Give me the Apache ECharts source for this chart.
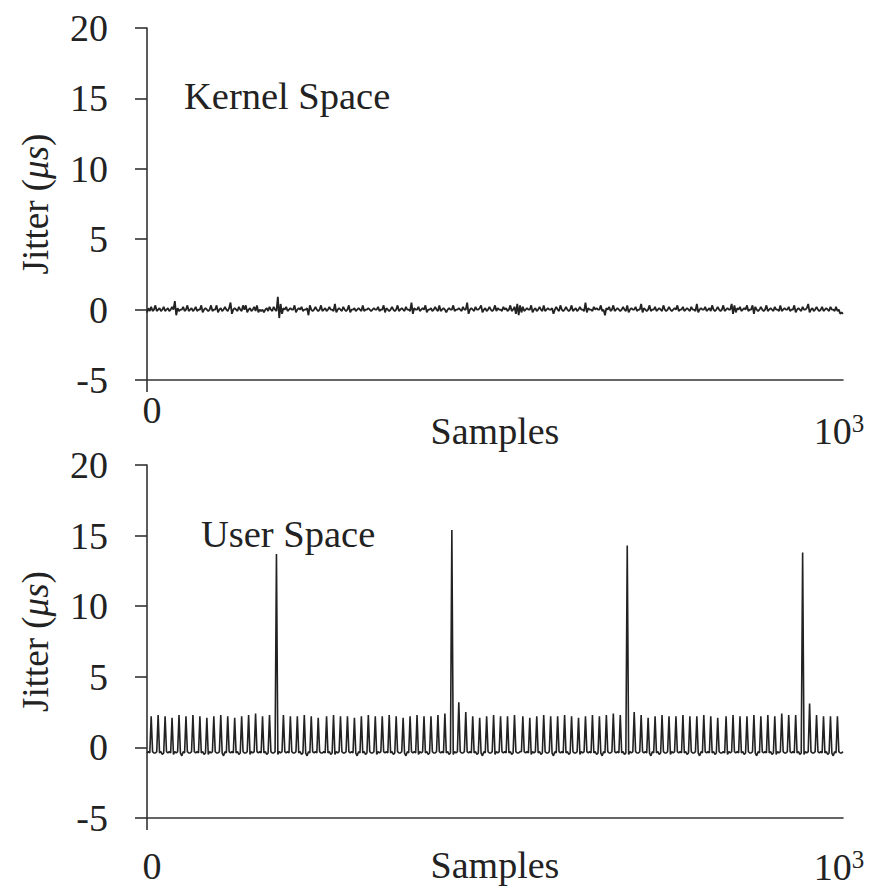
<!DOCTYPE html>
<html><head><meta charset="utf-8">
<script src="https://cdn.jsdelivr.net/npm/echarts@6/dist/echarts.min.js"></script>
<style>html,body{margin:0;padding:0;background:#fff}#c{width:875px;height:892px}</style>
</head><body><div id="c"></div>
<script>
// samples are recorded every 2 sample indices (0..1000)
const sampleStep = 2;
const xLabelValues = [0, 1000];
const xTickValues = [0];
const yMin = -5, yMax = 20, yStep = 5;
const panelTitles = ['Kernel Space', 'User Space'];
const axisNameX = 'Samples';

const kernelJitter = [
-0.2,0.1,-0.1,0.2,-0.1, 0.0,0.3,-0.1,0.0,0.1, -0.1,0.0,0.2,-0.1,0.0, 0.1,-0.1,0.0,0.2,0.0,
0.6,-0.4,0.1,-0.1,0.0, 0.0,0.2,-0.1,0.0,0.3, -0.1,0.0,0.1,-0.1,0.0, 0.2,-0.1,0.0,0.0,0.3,
-0.2,0.0,0.1,0.0,-0.1, 0.0,0.3,-0.1,0.0,0.0, 0.3,-0.2,0.0,0.1,-0.1, 0.0,0.2,0.0,-0.1,0.1,
0.5,-0.3,0.0,0.1,0.0, -0.1,0.2,0.0,-0.1,0.3, 0.0,0.3,-0.2,0.0,0.1, -0.1,0.0,0.2,-0.1,0.3,
-0.2,0.0,-0.1,0.0,-0.2, 0.0,0.1,-0.1,0.2,0.0, -0.1,0.2,0.0,-0.1,0.9, -0.6,0.4,-0.3,0.1,0.0,
0.2,-0.1,0.0,0.1,0.0, 0.0,0.3,-0.2,0.0,0.1, 0.0,0.2,-0.1,0.0,0.0, 0.1,-0.4,0.3,0.0,-0.1,
0.0,0.2,0.0,-0.1,0.0, 0.3,-0.1,0.0,0.1,-0.1, 0.0,0.2,0.0,0.0,-0.1, 0.4,-0.2,0.0,0.1,0.0,
-0.1,0.2,0.0,-0.1,0.0, 0.3,-0.2,0.0,0.0,0.1, -0.1,0.0,0.1,0.0,-0.1, 0.3,-0.1,0.0,0.0,0.1,
0.0,-0.1,0.0,0.1,0.0, 0.0,0.2,-0.1,0.0,0.0, 0.3,-0.2,0.1,0.0,-0.1, 0.0,0.2,0.0,-0.1,0.0,
0.3,-0.1,0.0,0.1,0.0, -0.1,0.2,0.0,0.0,-0.1, 0.5,-0.3,0.1,0.0,0.0, 0.2,-0.1,0.0,0.1,0.0,
0.3,-0.2,0.0,0.0,0.1, -0.1,0.0,0.2,0.0,-0.1, 0.3,-0.1,0.0,0.1,0.0, -0.2,0.0,0.1,0.0,0.0,
0.3,-0.1,0.0,0.0,0.1, 0.0,-0.1,0.2,0.0,0.0, 0.5,-0.3,0.0,0.1,0.0, -0.1,0.2,0.0,0.0,0.1,
0.3,-0.2,0.0,0.1,-0.1, 0.0,0.2,0.0,-0.1,0.0, 0.3,-0.1,0.1,0.0,0.0, -0.1,0.2,0.0,0.1,-0.1,
0.0,0.3,-0.1,0.0,0.2, -0.3,0.4,-0.4,0.3,-0.2, 0.2,-0.1,0.0,0.1,0.0, 0.0,0.3,-0.2,0.0,0.1,
-0.1,0.0,0.2,0.0,-0.1, 0.3,-0.1,0.0,0.1,0.0, 0.0,0.1,-0.3,0.0,0.2, 0.0,-0.1,0.3,0.0,-0.1,
0.0,0.2,0.0,-0.1,0.0, 0.3,-0.1,0.0,0.1,-0.1, 0.0,0.2,0.0,0.0,-0.1, 0.5,-0.2,0.1,0.0,0.0,
-0.1,0.2,0.0,0.1,0.0, 0.0,0.3,-0.1,0.0,-0.4, 0.1,0.0,0.2,-0.1,0.0, 0.3,-0.1,0.0,0.1,0.0,
-0.1,0.0,0.2,0.0,-0.1, 0.3,-0.2,0.0,0.1,0.0, 0.0,0.2,-0.1,0.0,0.0, 0.4,-0.2,0.1,0.0,-0.1,
0.0,0.3,-0.1,0.0,0.0, 0.2,-0.1,0.0,0.1,0.0, -0.1,0.3,0.0,-0.1,0.0, 0.2,0.0,-0.1,0.0,0.1,
0.0,0.3,-0.1,0.0,0.0, 0.2,-0.1,0.0,0.1,0.0, -0.1,0.2,0.0,0.0,-0.1, 0.4,-0.2,0.0,0.1,0.0,
0.0,0.2,-0.1,0.0,0.1, -0.1,0.3,0.0,-0.1,0.0, 0.2,0.0,-0.1,0.0,0.3, -0.1,0.0,0.1,0.0,0.0,
0.4,-0.3,0.3,-0.2,0.1, 0.0,0.2,-0.1,0.0,0.1, 0.0,0.3,-0.1,0.0,0.0, 0.3,-0.3,0.2,0.0,-0.1,
0.0,0.2,0.0,-0.1,0.0, 0.3,-0.1,0.0,0.1,0.0, -0.1,0.2,0.0,0.0,-0.1, 0.3,-0.1,0.0,0.1,0.0,
0.0,0.2,-0.1,0.0,0.0, 0.3,-0.2,0.0,0.1,0.0, -0.1,0.2,0.0,0.0,0.1, 0.4,-0.2,0.0,0.1,-0.1,
0.0,0.2,0.0,-0.1,0.0, 0.2,-0.1,0.0,0.1,0.0, -0.1,0.2,0.0,0.0,-0.1, 0.2,-0.1,0.0,-0.3,-0.2,
-0.3
];

const userJitter = [
-0.4,-0.3,-0.4,
2.2,-0.3,-0.4,-0.4,-0.3,
2.3,-0.4,-0.3,-0.5,-0.4,
2.2,-0.3,-0.4,-0.3,-0.4,
2.1,-0.5,-0.3,-0.4,-0.3,
2.3,-0.4,-0.6,-0.3,-0.4,
2.2,-0.3,-0.4,-0.4,-0.3,
2.3,-0.3,-0.4,-0.3,-0.4,
2.2,-0.4,-0.3,-0.5,-0.4,
2.1,-0.5,-0.3,-0.4,-0.3,
2.2,-0.3,-0.4,-0.4,-0.3,
2.3,-0.4,-0.6,-0.3,-0.4,
2.2,-0.3,-0.4,-0.3,-0.4,
2.1,-0.4,-0.3,-0.5,-0.4,
2.2,-0.3,-0.4,-0.4,-0.3,
2.3,-0.5,-0.3,-0.4,-0.3,
2.4,-0.3,-0.4,-0.3,-0.4,
2.2,-0.4,-0.3,-0.5,-0.4,
2.3,-0.3,-0.4,-0.4,-0.3,
13.7,-0.5,-0.3,-0.4,-0.3,
2.3,-0.3,-0.4,-0.3,-0.4,
2.2,-0.3,-0.4,-0.4,-0.3,
2.2,-0.4,-0.3,-0.5,-0.4,
2.3,-0.4,-0.6,-0.3,-0.4,
2.2,-0.3,-0.4,-0.3,-0.4,
2.1,-0.3,-0.4,-0.4,-0.3,-0.4,
2.2,-0.4,-0.3,-0.5,-0.4,
2.3,-0.5,-0.3,-0.4,-0.3,
2.2,-0.3,-0.4,-0.4,-0.3,
2.2,-0.3,-0.4,-0.3,-0.4,
2.1,-0.4,-0.6,-0.3,-0.4,
2.2,-0.4,-0.3,-0.5,-0.4,
2.3,-0.3,-0.4,-0.4,-0.3,
2.2,-0.5,-0.3,-0.4,-0.3,
2.2,-0.3,-0.4,-0.3,-0.4,
2.3,-0.4,-0.3,-0.5,-0.4,
2.2,-0.3,-0.4,-0.4,-0.3,
2.1,-0.4,-0.6,-0.3,-0.4,
2.2,-0.3,-0.4,-0.3,-0.4,
2.3,-0.5,-0.3,-0.4,-0.3,
2.2,-0.4,-0.3,-0.5,-0.4,
2.2,-0.3,-0.4,-0.4,-0.3,
2.3,-0.3,-0.4,-0.3,-0.4,
2.4,-0.4,-0.3,-0.5,-0.4,
15.4,-0.5,-0.3,-0.4,-0.3,
3.2,-0.3,-0.4,-0.4,-0.3,
2.5,-0.3,-0.4,-0.3,-0.4,
2.2,-0.4,-0.3,-0.5,-0.4,
2.1,-0.4,-0.6,-0.3,-0.4,
2.2,-0.3,-0.4,-0.4,-0.3,
2.3,-0.5,-0.3,-0.4,-0.3,
2.2,-0.3,-0.4,-0.3,-0.4,
2.2,-0.4,-0.3,-0.5,-0.4,
2.3,-0.3,-0.4,-0.4,-0.3,-0.3,
2.2,-0.3,-0.4,-0.3,-0.4,
2.1,-0.5,-0.3,-0.4,-0.3,
2.2,-0.4,-0.3,-0.5,-0.4,
2.3,-0.3,-0.4,-0.4,-0.3,
2.2,-0.4,-0.6,-0.3,-0.4,
2.2,-0.3,-0.4,-0.3,-0.4,
2.3,-0.4,-0.3,-0.5,-0.4,
2.2,-0.3,-0.4,-0.4,-0.3,
2.1,-0.5,-0.3,-0.4,-0.3,
2.2,-0.3,-0.4,-0.3,-0.4,
2.3,-0.4,-0.3,-0.5,-0.4,
2.2,-0.4,-0.6,-0.3,-0.4,
2.3,-0.3,-0.4,-0.4,-0.3,
2.4,-0.3,-0.4,-0.3,-0.4,
2.3,-0.4,-0.3,-0.5,-0.4,
14.3,-0.5,-0.3,-0.4,-0.3,
2.5,-0.3,-0.4,-0.4,-0.3,
2.3,-0.3,-0.4,-0.3,-0.4,
2.1,-0.4,-0.6,-0.3,-0.4,
2.2,-0.4,-0.3,-0.5,-0.4,
2.3,-0.3,-0.4,-0.4,-0.3,
2.2,-0.5,-0.3,-0.4,-0.3,
2.2,-0.3,-0.4,-0.3,-0.4,
2.3,-0.4,-0.3,-0.5,-0.4,
2.2,-0.3,-0.4,-0.4,-0.3,
2.2,-0.4,-0.6,-0.3,-0.4,
2.3,-0.3,-0.4,-0.3,-0.4,
2.2,-0.4,-0.3,-0.5,-0.4,
2.1,-0.3,-0.4,-0.4,-0.3,-0.4,
2.2,-0.5,-0.3,-0.4,-0.3,
2.3,-0.3,-0.4,-0.3,-0.4,
2.2,-0.4,-0.3,-0.5,-0.4,
2.2,-0.3,-0.4,-0.4,-0.3,
2.3,-0.4,-0.6,-0.3,-0.4,
2.2,-0.3,-0.4,-0.3,-0.4,
2.3,-0.4,-0.3,-0.5,-0.4,
2.2,-0.5,-0.3,-0.4,-0.3,
2.4,-0.3,-0.4,-0.4,-0.3,
2.3,-0.3,-0.4,-0.3,-0.4,
2.3,-0.4,-0.3,-0.5,-0.4,
13.8,-0.5,-0.3,-0.4,-0.3,
3.1,-0.3,-0.4,-0.4,-0.3,
2.3,-0.3,-0.4,-0.3,-0.4,
2.2,-0.4,-0.3,-0.5,-0.4,
2.2,-0.4,-0.6,-0.3,-0.4,
2.2,-0.3,-0.4,-0.4,-0.3
];

const FONT = "'Liberation Serif','Times New Roman',serif";
const INK = '#222';
const AXIS = '#333';

function toPairs(arr){ return arr.map((v,i)=>[i*sampleStep, v]); }

const chart = echarts.init(document.getElementById('c'), null, {renderer:'svg'});

function xAxisCfg(gi, nameGap, labelMargin, maxLabelDrop){
  return {
    type:'value', gridIndex:gi, min:0, max:1000, interval:1000,
    axisLine:{show:true,onZero:false,lineStyle:{color:AXIS,width:1.6}},
    axisTick:{show:true,customValues:xTickValues,length:12,lineStyle:{color:AXIS,width:1.6}},
    axisLabel:{
      customValues:xLabelValues, margin:labelMargin, color:INK, fontFamily:FONT, fontSize:38,
      formatter:function(v){ return v===0 ? '{z|0}' : (maxLabelDrop ? '{e|}\n' : '') + '{b|10}{s|3}{p|}'; },
      rich:{
        z:{fontFamily:FONT,fontSize:38,color:INK,padding:[0,0,0,10]},
        b:{fontFamily:FONT,fontSize:38,color:INK},
        s:{fontFamily:FONT,fontSize:25,color:INK,verticalAlign:'top',padding:[0,0,14,0]},
        p:{width:8},
        e:{fontSize:10,lineHeight:maxLabelDrop||1}
      }
    },
    splitLine:{show:false},
    name:axisNameX, nameLocation:'middle', nameGap:nameGap, nameMoveOverlap:false,
    nameTextStyle:{fontFamily:FONT,fontSize:38,color:INK}
  };
}
function yAxisCfg(gi){
  return {
    type:'value', gridIndex:gi, min:yMin, max:yMax, interval:yStep,
    axisLine:{show:true,onZero:false,lineStyle:{color:AXIS,width:1.6}},
    axisTick:{show:true,length:12,lineStyle:{color:AXIS,width:1.6}},
    axisLabel:{margin:39,color:INK,fontFamily:FONT,fontSize:38},
    splitLine:{show:false},
    name:'Jitter ({i|μs})', nameLocation:'middle', nameGap:93, nameMoveOverlap:false,
    nameTextStyle:{fontFamily:FONT,fontSize:37,color:INK,
      rich:{i:{fontFamily:FONT,fontSize:37,fontStyle:'italic',color:INK}}}
  };
}

chart.setOption({
  animation:false,
  backgroundColor:'#fff',
  title:[
    {text:panelTitles[0], left:184, top:76, padding:0, textStyle:{fontFamily:FONT,fontSize:38.5,fontWeight:'normal',color:INK}},
    {text:panelTitles[1], left:201, top:514, padding:0, textStyle:{fontFamily:FONT,fontSize:38.5,fontWeight:'normal',color:INK}}
  ],
  grid:[
    {left:147, right:32, top:28, height:352, containLabel:false, outerBoundsMode:'none'},
    {left:147, right:32, top:465, height:353, containLabel:false, outerBoundsMode:'none'}
  ],
  xAxis:[xAxisCfg(0, 32, 11, 20), xAxisCfg(1, 28, 29, 0)],
  yAxis:[yAxisCfg(0), yAxisCfg(1)],
  series:[
    {type:'line', xAxisIndex:0, yAxisIndex:0, data:toPairs(kernelJitter), showSymbol:false,
     lineStyle:{color:INK,width:1.8}, silent:true},
    {type:'line', xAxisIndex:1, yAxisIndex:1, data:toPairs(userJitter), showSymbol:false,
     lineStyle:{color:INK,width:1.6}, silent:true}
  ]
});
</script>
</body></html>
